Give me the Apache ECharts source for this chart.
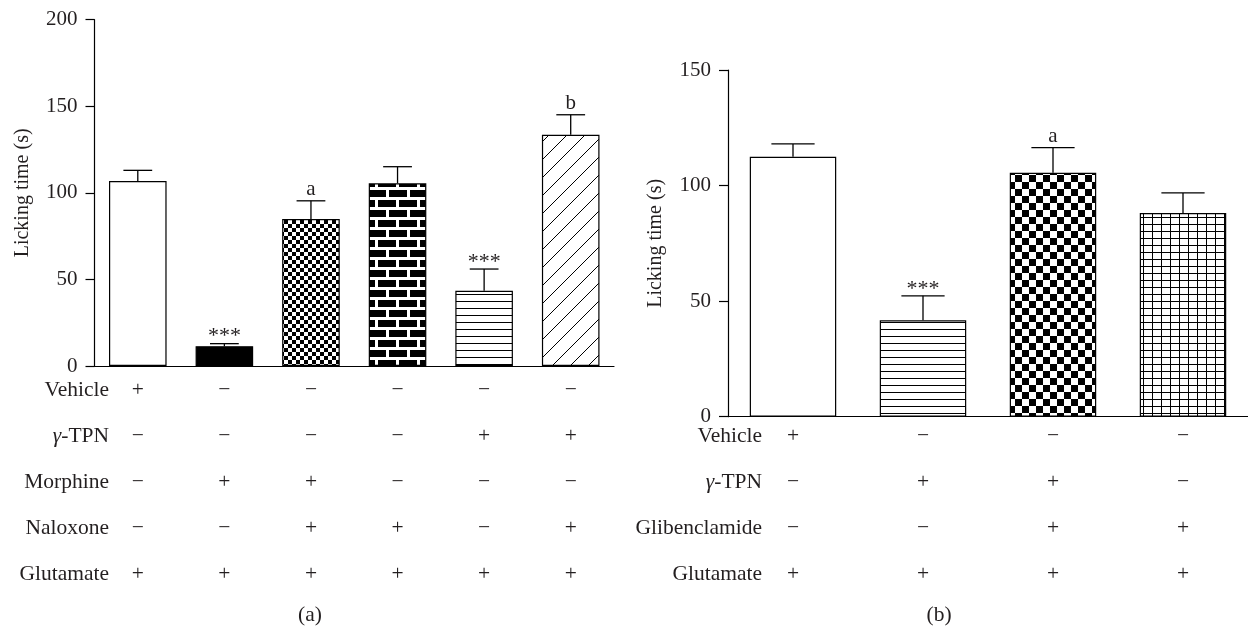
<!DOCTYPE html>
<html>
<head>
<meta charset="utf-8">
<title>Licking time</title>
<script src="https://cdn.jsdelivr.net/npm/echarts/dist/echarts.min.js"></script>
<style>
  html, body { margin: 0; padding: 0; background: #ffffff; }
  #chart { width: 1248px; height: 629px; }
</style>
</head>
<body>
<div id="chart"></div>
<script>
// ---------- data ----------
const categoriesA = ['Vehicle', 'Morphine', 'Morphine + Naloxone', 'Naloxone', 'γ-TPN', 'γ-TPN + Naloxone'];
const meansA = [106.8, 11.4, 84.9, 105.5, 43.5, 133.5];
const semA = [6.2, 1.5, 10.5, 9.6, 12.5, 11.6];
const marksA = ['', '***', 'a', '', '***', 'b'];
const yMaxA = 200;
const yStepA = 50;
const rowLabelsA = ['Vehicle', 'γ-TPN', 'Morphine', 'Naloxone', 'Glutamate'];
const rowSignsA = [
  ['+', '−', '−', '−', '−', '−'],
  ['−', '−', '−', '−', '+', '+'],
  ['−', '+', '+', '−', '−', '−'],
  ['−', '−', '+', '+', '−', '+'],
  ['+', '+', '+', '+', '+', '+']
];
const panelA = '(a)';

const categoriesB = ['Vehicle', 'γ-TPN', 'γ-TPN + Glibenclamide', 'Glibenclamide'];
const meansB = [112.5, 41.7, 105.5, 88.1];
const semB = [5.5, 10.6, 10.9, 8.7];
const marksB = ['', '***', 'a', ''];
const yMaxB = 150;
const yStepB = 50;
const rowLabelsB = ['Vehicle', 'γ-TPN', 'Glibenclamide', 'Glutamate'];
const rowSignsB = [
  ['+', '−', '−', '−'],
  ['−', '+', '+', '−'],
  ['−', '−', '+', '+'],
  ['+', '+', '+', '+']
];
const panelB = '(b)';
const yTitle = 'Licking time (s)';

// ---------- styles ----------
const FONT = "'Liberation Serif', 'Times New Roman', serif";
const INK = '#231f20';
const TABLE_SIZE = 21.5;
const TICK_SIZE = 21;

function pattern(w, h, draw) {
  const c = document.createElement('canvas');
  c.width = w; c.height = h;
  const g = c.getContext('2d');
  g.fillStyle = '#ffffff'; g.fillRect(0, 0, w, h);
  g.fillStyle = '#000000'; g.strokeStyle = '#000000';
  draw(g);
  return { image: c, repeat: 'repeat' };
}
const fills = {
  white: '#ffffff',
  black: '#000000',
  fineChecker: pattern(8, 8, g => { g.fillRect(0, 0, 4, 4); g.fillRect(4, 4, 4, 4); }),
  bricks: pattern(21, 20, g => {
    g.fillRect(0, 0, 18, 7);
    g.fillRect(-10, 10, 18, 7); g.fillRect(11, 10, 18, 7);
  }),
  hlines: pattern(4, 7, g => { g.fillRect(0, 0, 4, 1); }),
  diagonal: pattern(18, 18, g => {
    g.lineWidth = 1;
    g.beginPath();
    g.moveTo(0, 18); g.lineTo(18, 0);
    g.moveTo(-2, 2); g.lineTo(2, -2);
    g.moveTo(16, 20); g.lineTo(20, 16);
    g.stroke();
  }),
  checker: pattern(14, 14, g => { g.fillRect(0, 0, 7, 7); g.fillRect(7, 7, 7, 7); }),
  grid: pattern(9, 7, g => { g.fillRect(0, 0, 9, 1); g.fillRect(0, 0, 1, 7); })
};
const fillOrderA = ['white', 'black', 'fineChecker', 'bricks', 'hlines', 'diagonal'];
const fillOrderB = ['white', 'hlines', 'checker', 'grid'];

const BAR_FRAC = 0.665;
const CAP_FRAC = 0.5;

function barSeries(idx, means, order) {
  return {
    type: 'bar', xAxisIndex: idx, yAxisIndex: idx, barWidth: (BAR_FRAC * 100) + '%',
    silent: true, z: 2,
    data: means.map((v, i) => ({
      value: v,
      itemStyle: { color: fills[order[i]], borderColor: '#000', borderWidth: 1.2 }
    }))
  };
}

function errSeries(idx, means, sems, marks) {
  return {
    type: 'custom', xAxisIndex: idx, yAxisIndex: idx, silent: true, z: 5,
    data: means.map((m, i) => [i, m, m + sems[i]]),
    renderItem: (params, api) => {
      const b = api.coord([api.value(0), api.value(1)]);
      const t = api.coord([api.value(0), api.value(2)]);
      const band = api.size([1, 0])[0];
      const cap = band * BAR_FRAC * CAP_FRAC;
      const mark = marks[params.dataIndex];
      const lineStyle = { stroke: '#000', lineWidth: 1.3 };
      const children = [
        { type: 'line', shape: { x1: t[0], y1: b[1], x2: t[0], y2: t[1] }, style: lineStyle },
        { type: 'line', shape: { x1: t[0] - cap / 2, y1: t[1], x2: t[0] + cap / 2, y2: t[1] }, style: lineStyle }
      ];
      if (mark) {
        const star = mark.indexOf('*') >= 0;
        children.push({
          type: 'text', x: t[0], y: t[1] + (star ? 4 : -1),
          style: {
            text: mark, align: 'center', verticalAlign: 'bottom',
            fontFamily: FONT, fontSize: star ? 22 : 21, fill: INK
          }
        });
      }
      return { type: 'group', children: children };
    }
  };
}

function yAxisDef(idx, max, step) {
  return {
    type: 'value', gridIndex: idx, min: 0, max: max, interval: step,
    name: yTitle, nameLocation: 'middle', nameGap: 62,
    nameTextStyle: { fontFamily: FONT, fontSize: 20, color: INK },
    axisLine: { show: true, lineStyle: { color: '#000', width: 1.2 } },
    axisTick: { show: true, length: 9, lineStyle: { color: '#000', width: 1.2 } },
    axisLabel: { fontFamily: FONT, fontSize: TICK_SIZE, color: INK, margin: 17 },
    splitLine: { show: false }
  };
}
function xAxisDef(idx, cats) {
  return {
    type: 'category', gridIndex: idx, data: cats,
    axisLine: { show: true, lineStyle: { color: '#000', width: 1.2 } },
    axisTick: { show: false }, axisLabel: { show: false }, splitLine: { show: false }
  };
}

const chart = echarts.init(document.getElementById('chart'), null, { renderer: 'canvas' });
chart.setOption({
  backgroundColor: '#ffffff',
  animation: false,
  grid: [
    { left: 94.5, top: 19.7, width: 519.5, height: 346.3, containLabel: false },
    { left: 728, top: 70, width: 520, height: 346.7, containLabel: false }
  ],
  xAxis: [xAxisDef(0, categoriesA), xAxisDef(1, categoriesB)],
  yAxis: [yAxisDef(0, yMaxA, yStepA), yAxisDef(1, yMaxB, yStepB)],
  series: [
    barSeries(0, meansA, fillOrderA),
    errSeries(0, meansA, semA, marksA),
    barSeries(1, meansB, fillOrderB),
    errSeries(1, meansB, semB, marksB)
  ]
});

// ---------- treatment table under each panel ----------
function labelText(s) {
  return s.replace('γ', '{g|γ}');
}
function tableGraphics(idx, cats, labels, signs, labelRight, rowTop, rowStep, panel, panelX, panelY) {
  const out = [];
  const rich = { g: { fontFamily: FONT, fontSize: TABLE_SIZE, fontStyle: 'italic', fill: INK } };
  labels.forEach((lab, r) => {
    const y = rowTop + r * rowStep;
    out.push({
      type: 'text', x: labelRight, y: y, silent: true,
      style: { text: labelText(lab), rich: rich, align: 'right', verticalAlign: 'middle', fontFamily: FONT, fontSize: TABLE_SIZE, fill: INK }
    });
    signs[r].forEach((s, c) => {
      const cx = chart.convertToPixel({ xAxisIndex: idx }, cats[c]);
      out.push({
        type: 'text', x: cx, y: y, silent: true,
        style: { text: s, align: 'center', verticalAlign: 'middle', fontFamily: FONT, fontSize: TABLE_SIZE, fill: INK }
      });
    });
  });
  out.push({
    type: 'text', x: panelX, y: panelY, silent: true,
    style: { text: panel, align: 'center', verticalAlign: 'middle', fontFamily: FONT, fontSize: TABLE_SIZE, fill: INK }
  });
  return out;
}
const graphics = [].concat(
  tableGraphics(0, categoriesA, rowLabelsA, rowSignsA, 109, 390, 46, panelA, 310, 615),
  tableGraphics(1, categoriesB, rowLabelsB, rowSignsB, 762, 436, 46, panelB, 939, 615)
);
chart.setOption({ graphic: graphics });
</script>
</body>
</html>
